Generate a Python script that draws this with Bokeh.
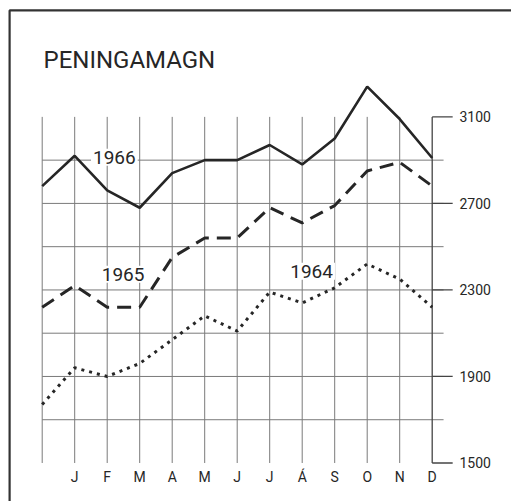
from bokeh.plotting import figure
from bokeh.embed import file_html
from bokeh.resources import INLINE
from bokeh.core.properties import value
from bokeh.models import Range1d

# ---- data ----
months = ["", "J", "F", "M", "A", "M", "J", "J", "Á", "S", "O", "N", "D"]
y1966 = [2780, 2920, 2760, 2680, 2840, 2900, 2900, 2970, 2880, 3000, 3240, 3090, 2910]
y1965 = [2220, 2320, 2220, 2220, 2450, 2540, 2540, 2680, 2610, 2690, 2850, 2890, 2780]
y1964 = [1770, 1940, 1900, 1960, 2070, 2180, 2110, 2290, 2240, 2310, 2420, 2350, 2220]
grid_vals = [1700, 1900, 2100, 2300, 2500, 2700, 2900]
tick_vals = [1500, 1900, 2300, 2700, 3100]
tick_labels = ["1500", "1900", "2300", "2700", "3100"]
series_labels = ["1966", "1965", "1964"]
title_text = "PENINGAMAGN"

xs = list(range(len(months)))
W, H = 511, 501
X0, X1 = -1.283, 14.44
Y0, Y1 = 1322, 3638

p = figure(width=W, height=H, output_backend="svg", toolbar_location=None,
           x_range=Range1d(X0, X1), y_range=Range1d(Y0, Y1),
           min_border=0, outline_line_color=None, background_fill_color="white",
           border_fill_color="white")
p.axis.visible = False
p.grid.visible = False

ink = "#262626"
gridc = "#7a7a7a"
ymin, ymax = tick_vals[0], tick_vals[-1]
xlast = xs[-1]

# outer frame (top & left)
p.line([X0 + 0.28, X0 + 0.28, X1], [Y0, Y1 - 46, Y1 - 46],
       line_color="#333333", line_width=2.2)

# horizontal grid lines
p.segment(x0=[0] * len(grid_vals), y0=grid_vals, x1=[xlast + 0.35] * len(grid_vals),
          y1=grid_vals, line_color=gridc, line_width=1)
# vertical grid lines
p.segment(x0=xs[:-1], y0=[ymin] * (len(xs) - 1), x1=xs[:-1], y1=[ymax] * (len(xs) - 1),
          line_color=gridc, line_width=1)
# right axis line + ticks
p.segment(x0=[xlast], y0=[ymin], x1=[xlast], y1=[ymax], line_color="#444444", line_width=1.3)
p.segment(x0=[xlast] * len(tick_vals), y0=tick_vals, x1=[xlast + 0.63] * len(tick_vals),
          y1=tick_vals, line_color="#444444", line_width=1.3)
p.text(x=[xlast + 0.84] * len(tick_vals), y=tick_vals, text=tick_labels,
       text_font=value("Roboto"), text_font_size="14px", text_color=ink,
       text_baseline="middle", text_align="left")

# month labels
p.text(x=xs, y=[1433] * len(xs), text=months, text_font=value("Roboto"),
       text_font_size="14px", text_color=ink, text_baseline="middle", text_align="center")

# series
p.line(xs, y1964, line_color=ink, line_width=3, line_dash="3 5")
p.line(xs, y1965, line_color=ink, line_width=3, line_dash="14 8")
p.line(xs, y1966, line_color=ink, line_width=2.6)

# series labels
p.text(x=[2.22, 2.49, 8.29], y=[2913, 2372, 2386], text=series_labels,
       text_font=value("Roboto"), text_font_size="19px", text_color=ink,
       text_baseline="middle", text_align="center",
       background_fill_color="white", padding=2)

# title
p.text(x=[0.04], y=[3361], text=[title_text], text_font=value("Roboto"),
       text_font_size="24px", text_color=ink, text_baseline="middle", text_align="left")

open("out.html", "w").write(file_html(p, INLINE))
